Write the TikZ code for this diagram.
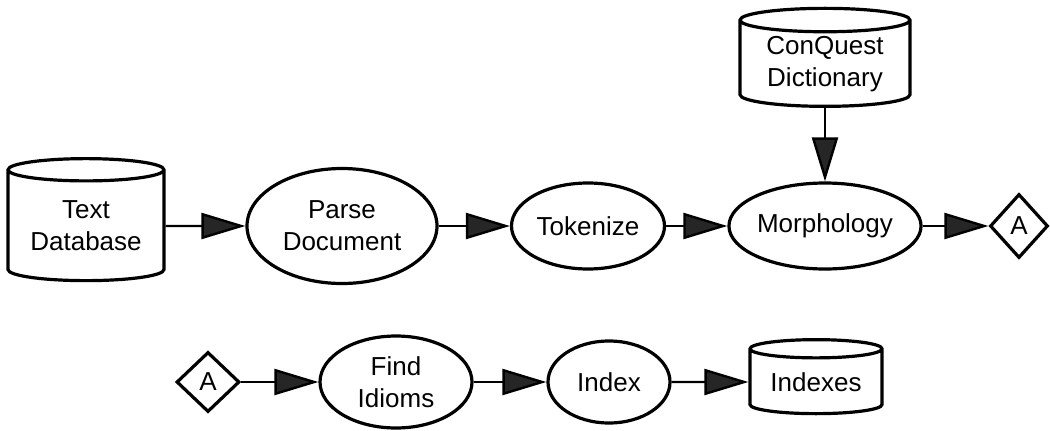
\documentclass[tikz,border=0pt]{standalone}
\usepackage{fontspec}
\setmainfont{Liberation Sans}
\usetikzlibrary{shapes.geometric,arrows.meta}

\tikzset{
  proc/.style={ellipse, draw, line width=1.6pt, inner sep=0pt, align=center},
  store/.style={cylinder, shape border rotate=90, draw, line width=1.6pt,
    aspect=0.2, inner sep=0pt, align=center},
  conn/.style={diamond, draw, line width=1.6pt, inner sep=0pt},
  flow/.style={line width=1.2pt, -{Triangle[length=22pt,width=13pt,fill=black!85]}}
}

\begin{document}
\begin{tikzpicture}[x=0.5pt,y=0.5pt,font=\fontsize{13}{16}\selectfont]
  \useasboundingbox (0,0) rectangle (1050,430);
  % first row
  \node[store, minimum width=78pt, minimum height=61pt] (textdb) at (86,204) {Text\\Database};
  \node[proc, minimum width=95pt, minimum height=57.5pt] (parse) at (342,204) {Parse\\Document};
  \node[proc, minimum width=76.5pt, minimum height=43pt] (token) at (588,204) {Tokenize};
  \node[proc, minimum width=91.5pt, minimum height=43pt] (morph) at (825,204) {Morphology};
  \node[store, minimum width=85pt, minimum height=49pt] (dict) at (825,366) {ConQuest\\Dictionary};
  \node[conn, minimum width=29pt, minimum height=32pt] (outA) at (1019,204) {A};
  % second row
  \node[conn, minimum width=31.5pt, minimum height=30pt] (inA) at (208,48) {A};
  \node[proc, minimum width=76pt, minimum height=46pt] (idioms) at (396,48) {Find\\Idioms};
  \node[proc, minimum width=61pt, minimum height=41pt] (index) at (609,48) {Index};
  \node[store, minimum width=66pt, minimum height=37pt] (indexes) at (816,48) {Indexes};

  \draw[flow] (textdb) -- (parse);
  \draw[flow] (parse) -- (token);
  \draw[flow] (token) -- (morph);
  \draw[flow] (dict.south) -- (morph.north);
  \draw[flow] (morph) -- (outA);
  \draw[flow] (inA) -- (idioms);
  \draw[flow] (idioms) -- (index);
  \draw[flow] (index) -- (indexes);
\end{tikzpicture}
\end{document}
